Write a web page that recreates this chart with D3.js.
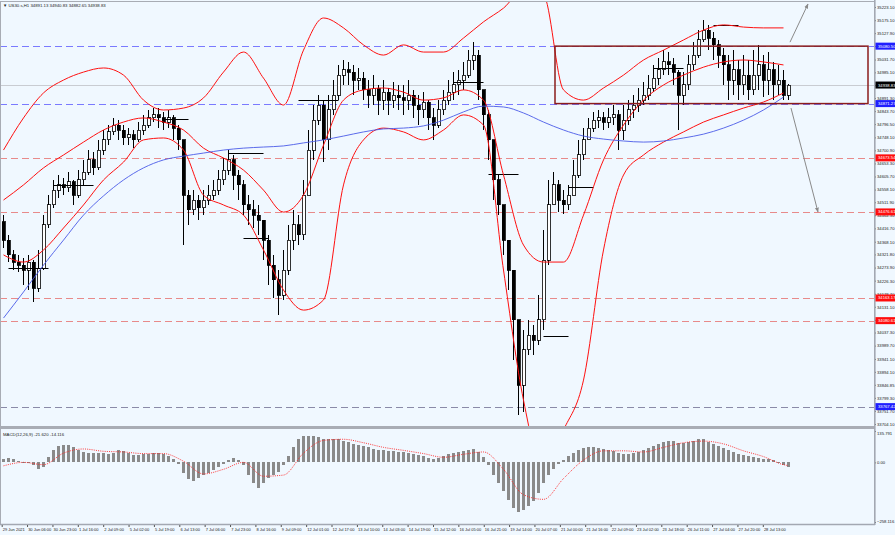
<!DOCTYPE html>
<html><head><meta charset="utf-8">
<script src="https://cdn.jsdelivr.net/npm/d3@7"></script>
<style>body{margin:0;background:#f0f8ff}svg{display:block}</style>
</head><body><svg id="c" width="895" height="535"></svg>
<script>
// ---------------- DATA ----------------
const symbolTitle = "US30.s,H1  34891.13 34940.83 34882.65 34938.83";
const macdTitle = "MACD(12,26,9) -21.620 -14.116";
const firstOpen = 34440;
const closes = [
34374,34320,34294,34283,34265,34294,34199,34272,34429,34502,
34556,34575,34564,34586,34538,34593,34622,34666,34637,34702,
34739,34768,34793,34775,34746,34757,34739,34775,34793,34819,
34830,34819,34804,34819,34782,34739,34538,34484,34520,34491,
34520,34538,34556,34593,34629,34666,34611,34575,34502,34484,
34465,34447,34374,34283,34229,34174,34265,34374,34429,34393,
34538,34702,34811,34866,34739,34848,34902,34975,34994,34986,
34957,34964,34921,34902,34928,34884,34913,34884,34902,34892,
34884,34902,34866,34848,34877,34819,34793,34848,34884,34913,
34939,34957,34975,35030,35048,34921,34830,34739,34593,34502,
34374,34265,34083,33846,33974,34028,34010,34083,34301,34502,
34575,34520,34502,34538,34611,34684,34739,34782,34811,34819,
34804,34819,34830,34775,34811,34848,34866,34884,34902,34928,
34964,34994,35023,35012,34986,34902,34939,35012,35048,35103,
35139,35110,35085,35048,35012,34957,34994,34939,34975,34921,
34975,35012,34957,34994,34939,34957,34902,34938.83];
const highs = [
34465,34393,34338,34320,34309,34320,34301,34338,34465,34538,
34593,34611,34600,34622,34593,34629,34666,34702,34695,34739,
34775,34793,34819,34811,34793,34782,34775,34804,34830,34848,
34855,34855,34841,34848,34830,34793,34739,34556,34556,34538,
34556,34575,34593,34629,34673,34702,34684,34629,34593,34538,
34520,34502,34447,34393,34320,34265,34338,34429,34484,34465,
34593,34775,34866,34902,34884,34902,34957,35012,35030,35023,
35012,35001,34986,34957,34975,34939,34957,34928,34950,34939,
34939,34957,34921,34902,34913,34884,34855,34884,34921,34957,
34986,34994,35023,35066,35096,35066,34921,34848,34739,34611,
34502,34374,34265,34083,34046,34083,34065,34174,34411,34593,
34622,34593,34556,34575,34666,34739,34782,34819,34841,34848,
34841,34855,34866,34848,34866,34884,34902,34928,34950,34975,
35012,35037,35066,35059,35037,34994,34986,35048,35096,35139,
35176,35157,35132,35103,35074,35048,35066,35030,35048,35030,
35066,35085,35048,35059,35023,35012,34994,34940.83];
const lows = [
34345,34294,34265,34258,34210,34192,34148,34185,34265,34418,
34491,34527,34538,34549,34502,34527,34575,34611,34611,34629,
34684,34720,34757,34739,34720,34720,34710,34731,34757,34782,
34804,34782,34775,34782,34739,34702,34356,34429,34465,34447,
34465,34502,34520,34538,34575,34611,34556,34520,34465,34429,
34418,34393,34301,34210,34163,34101,34156,34247,34338,34356,
34374,34538,34666,34793,34658,34702,34830,34884,34939,34939,
34902,34921,34884,34855,34866,34830,34848,34830,34855,34848,
34830,34848,34819,34793,34819,34775,34739,34782,34830,34866,
34884,34902,34921,34964,34994,34884,34775,34666,34520,34465,
34320,34192,33937,33737,33748,33955,33955,33992,34046,34283,
34502,34476,34469,34484,34556,34600,34666,34739,34768,34782,
34775,34782,34793,34702,34739,34793,34819,34841,34866,34884,
34913,34939,34975,34975,34939,34775,34866,34921,34994,35037,
35096,35066,35030,35001,34939,34884,34902,34884,34902,34884,
34902,34921,34895,34902,34884,34902,34884,34882.65];

// indicator samples (bar index of each sample)
const sampleBars = [0,4,8,12,16,20,24,28,32,36,40,44,48,52,56,60,64,68,72,76,80,84,88,92,96,100,104,108,112,116,120,124,128,132,136,140,144,148,152,156];
const bbUpper = [34702,34819,34910,34957,34986,35001,34975,34884,34848,34855,34892,34986,35059,34964,34866,35066,35183,35147,35085,35048,35085,35059,35059,35110,35169,35219,35285,35267,34921,34884,34928,34975,35030,35066,35103,35139,35158,35150,35147,35147];
const bbMiddle = [34520,34575,34637,34684,34731,34775,34804,34819,34804,34775,34709,34673,34629,34556,34476,34538,34720,34884,34921,34928,34913,34884,34892,34921,34884,34611,34356,34294,34294,34465,34666,34793,34884,34939,34975,35004,35023,35030,35023,35012];
const bbLower = [34320,34294,34338,34418,34502,34593,34658,34739,34746,34702,34538,34502,34465,34338,34192,34119,34156,34575,34739,34782,34768,34739,34775,34830,34793,34265,33791,33536,33682,33864,34338,34611,34684,34731,34768,34804,34830,34855,34877,34910];
const maLine = [34090,34185,34283,34374,34465,34535,34593,34637,34666,34680,34691,34702,34709,34713,34717,34728,34739,34753,34768,34779,34782,34790,34811,34841,34862,34859,34837,34804,34775,34753,34742,34735,34731,34735,34746,34760,34782,34811,34848,34895];

const macdHist = [
13,18,13,4,0,-4,-13,-27,-18,22,
54,72,76,76,67,54,45,40,40,40,
40,36,40,54,49,40,31,31,36,36,
40,40,36,27,13,-9,-45,-72,-81,-67,
-54,-45,-31,-22,-9,9,18,9,-13,-54,
-90,-112,-90,-67,-54,-40,-13,27,67,99,
116,116,112,108,103,103,99,99,94,90,
81,76,72,67,58,54,54,49,49,45,
45,40,36,31,27,18,13,18,27,36,
40,45,49,54,58,45,22,-13,-54,-90,
-125,-161,-197,-215,-206,-188,-166,-134,-90,-54,
-27,-9,9,27,40,54,63,67,67,63,
58,54,49,40,36,36,40,45,54,63,
72,81,90,94,94,85,85,90,94,99,
99,90,81,72,63,54,45,36,31,27,
22,18,13,13,9,0,-13,-21.62];
const signalBars = sampleBars.concat([157]);
const macdSignal = [-15,0,-10,40,58,48,45,38,38,5,-50,-30,0,-60,-55,40,95,100,85,65,52,38,22,35,45,-30,-140,-160,-70,10,50,50,45,65,85,92,80,50,25,-10,-14.116];

const priceTicks = [35223.10,35175.10,35127.90,35080.50,35031.70,34985.10,34938.50,34891.30,34843.70,34796.50,34748.10,34700.90,34653.30,34605.70,34558.10,34511.90,34464.30,34416.70,34368.10,34321.80,34273.90,34226.30,34178.70,34131.10,34083.50,34037.30,33989.70,33941.10,33894.10,33846.85,33799.30,33751.70,33704.10];
const macdTicks = [135.791, 0, -258.116];
const timeLabels = ["29 Jun 2021","30 Jun 06:00","30 Jun 23:00","1 Jul 16:00","2 Jul 09:00","5 Jul 02:00","5 Jul 19:00","6 Jul 13:00","7 Jul 06:00","7 Jul 23:00","8 Jul 16:00","9 Jul 09:00","12 Jul 01:00","12 Jul 17:00","13 Jul 10:00","14 Jul 03:00","14 Jul 19:00","15 Jul 12:00","16 Jul 05:00","16 Jul 21:00","19 Jul 14:00","20 Jul 07:00","21 Jul 00:00","21 Jul 16:00","22 Jul 09:00","23 Jul 02:00","23 Jul 18:00","26 Jul 11:00","27 Jul 04:00","27 Jul 20:00","28 Jul 13:00"];
const timeLabelBars = [-0.36,4.71,9.79,14.86,19.94,25.01,30.08,35.16,40.23,45.31,50.38,55.45,60.53,65.60,70.68,75.75,80.82,85.90,90.97,96.05,101.12,106.19,111.27,116.34,121.42,126.49,131.56,136.64,141.71,146.79,151.86];

const levelPrices = [35080.50,34871.27,34673.54,34476.61,34163.17,34080.61,33767.42];
const levelKinds  = ["blue","blue","red","red","red","red","grey"];
const lastPrice = 34938.83;
const segBars = [[1,9],[10,18],[32,37],[45,52],[48,53],[59,67],[90,96],[97,103],[108,113],[113,118],[130,136],[142,147]];
const segPrices = [34272,34575,34815,34691,34382,34884,34950,34615,34024,34567,35001,35157];
const boxBars = [110.3, 172.9];
const boxPrices = [35080.50, 34871.27];
const arrowBars = [[157.3,160.9],[157.5,162.9]];
const arrowPrices = [[35095,35234],[34855,34476]];

// ---------------- LAYOUT ----------------
const W=895,H=535, plotR=874, mainTop=2, mainBot=426, macdTop=430, macdBot=524;
const svg=d3.select('#c');
const FONT='"Liberation Sans", Arial, sans-serif';
svg.append('rect').attr('width',W).attr('height',H).attr('fill','#f0f8ff');

const x=d3.scaleLinear().domain([0,157]).range([3.5,788.5]);
const y=d3.scaleLinear().domain([33704.10,35223.10]).range([424,7]);
const ym=d3.scaleLinear().domain([-258.116,135.791]).range([522,431]);

const defs=svg.append('defs');
defs.append('clipPath').attr('id','cm').append('rect').attr('x',0).attr('y',mainTop).attr('width',plotR).attr('height',mainBot-mainTop);
defs.append('clipPath').attr('id','cd').append('rect').attr('x',0).attr('y',macdTop).attr('width',plotR).attr('height',macdBot-macdTop);
defs.append('marker').attr('id','ah').attr('viewBox','0 0 10 10').attr('refX',9).attr('refY',5)
  .attr('markerWidth',5).attr('markerHeight',5).attr('orient','auto')
  .append('path').attr('d','M0,1L10,5L0,9Z').attr('fill','#8a8a8a');

const main=svg.append('g').attr('clip-path','url(#cm)');

// dashed level lines
const lvlColor={blue:'#7a7aff',red:'#e88a8a',grey:'#8a8aa8'};
main.selectAll('.lvl').data(levelPrices).join('line')
  .attr('x1',0).attr('x2',plotR).attr('y1',d=>Math.round(y(d))+0.5).attr('y2',d=>Math.round(y(d))+0.5)
  .attr('stroke',(d,i)=>lvlColor[levelKinds[i]]).attr('stroke-width',1).attr('stroke-dasharray','7,4');
// last price line
main.append('line').attr('x1',0).attr('x2',plotR).attr('y1',Math.round(y(lastPrice))+0.5).attr('y2',Math.round(y(lastPrice))+0.5)
  .attr('stroke','#c9ccd2').attr('stroke-width',1);

// candles
const opens=[firstOpen].concat(closes.slice(0,-1));
const cg=main.append('g').attr('shape-rendering','crispEdges');
closes.forEach((c,i)=>{
  const o=opens[i], hi=Math.max(highs[i],o,c), lo=Math.min(lows[i],o,c);
  cg.append('line').attr('x1',x(i)).attr('x2',x(i)).attr('y1',y(hi)).attr('y2',y(lo)).attr('stroke','#000');
  const top=y(Math.max(o,c)), h=Math.max(1,Math.abs(y(o)-y(c)));
  cg.append('rect').attr('x',x(i)-1.5).attr('y',top).attr('width',3).attr('height',h)
    .attr('fill',c>=o?'#ffffff':'#000000').attr('stroke','#000').attr('stroke-width',0.8);
});

// black horizontal segments
main.selectAll('.seg').data(segPrices).join('line')
  .attr('x1',(d,i)=>x(segBars[i][0])).attr('x2',(d,i)=>x(segBars[i][1]))
  .attr('y1',d=>Math.round(y(d))+0.5).attr('y2',d=>Math.round(y(d))+0.5)
  .attr('stroke','#000').attr('stroke-width',1);

// bollinger + MA
const lineGen=(arr,bars,sc)=>d3.line().x((d,i)=>x(bars[i])).y(d=>sc(d)).curve(d3.curveMonotoneX)(arr);
[bbUpper,bbMiddle,bbLower].forEach(a=>{
  main.append('path').attr('d',lineGen(a,sampleBars,y)).attr('fill','none').attr('stroke','#ff1010').attr('stroke-width',1);
});
main.append('path').attr('d',lineGen(maLine,sampleBars,y)).attr('fill','none').attr('stroke','#4a5ae8').attr('stroke-width',0.9);

// box
main.append('rect').attr('x',x(boxBars[0])).attr('y',y(boxPrices[0])).attr('width',x(boxBars[1])-x(boxBars[0]))
  .attr('height',y(boxPrices[1])-y(boxPrices[0])).attr('fill','none').attr('stroke','#8b1c1c').attr('stroke-width',1.5);

// arrows
svg.selectAll('.arr').data(arrowBars).join('line')
  .attr('x1',d=>x(d[0])).attr('x2',d=>x(d[1]))
  .attr('y1',(d,i)=>y(arrowPrices[i][0])).attr('y2',(d,i)=>y(arrowPrices[i][1]))
  .attr('stroke','#8a8a8a').attr('stroke-width',1).attr('marker-end','url(#ah)');

// MACD
const md=svg.append('g').attr('clip-path','url(#cd)');
md.append('g').attr('shape-rendering','crispEdges').selectAll('rect').data(macdHist).join('rect')
  .attr('x',(d,i)=>Math.round(x(i)-1.5)).attr('width',3)
  .attr('y',d=>Math.min(ym(d),ym(0))).attr('height',d=>Math.max(0.5,Math.abs(ym(d)-ym(0))))
  .attr('fill','#8a8a8a');
md.append('path').attr('d',lineGen(macdSignal,signalBars,ym)).attr('fill','none')
  .attr('stroke','#ff2020').attr('stroke-width',0.9).attr('stroke-dasharray','1,1.2');

// frames
svg.append('line').attr('x1',0).attr('x2',plotR).attr('y1',1.5).attr('y2',1.5).attr('stroke','#a8acb4');
svg.append('line').attr('x1',0.5).attr('x2',0.5).attr('y1',1).attr('y2',macdBot).attr('stroke','#a8acb4');
svg.append('rect').attr('x',0).attr('y',426).attr('width',plotR).attr('height',3).attr('fill','#a9adb5');

// right axes
const ax=svg.append('g').attr('transform',`translate(${plotR},0)`)
  .call(d3.axisRight(y).tickValues(priceTicks).tickSize(2).tickPadding(1).tickFormat(d=>d.toFixed(2)));
const ax2=svg.append('g').attr('transform',`translate(${plotR},0)`)
  .call(d3.axisRight(ym).tickValues(macdTicks).tickSize(2).tickPadding(1).tickFormat(d=>d===0?'0.00':d3.format('.3f')(d)));
[ax,ax2].forEach(a=>{
  a.select('.domain').remove();
  a.selectAll('text').attr('font-family',FONT).attr('font-size',4.2).attr('fill','#222');
  a.selectAll('line').attr('stroke','#555');
});
ax2.selectAll('text').attr('dy',(d)=>d>100?'0.9em':(d<-200?'0em':'0.32em'));
svg.append('rect').attr('x',plotR).attr('y',0).attr('width',1.6).attr('height',macdBot+1).attr('fill','#a3a8b2');

// level tags
const tagFill={blue:'#1f1fff',red:'#ff0d0d',grey:'#1f1fff'};
const tags=levelPrices.map((p,i)=>({p,fill:tagFill[levelKinds[i]]})).concat([{p:lastPrice,fill:'#000'}]);
const tg=svg.append('g');
tags.forEach(t=>{
  const cy=y(t.p);
  tg.append('rect').attr('x',plotR+1.5).attr('y',cy-3.5).attr('width',W-plotR-1.5).attr('height',7).attr('fill',t.fill);
  tg.append('text').attr('x',plotR+4).attr('y',cy).attr('dy','0.35em').attr('font-family',FONT).attr('font-size',4.2)
    .attr('fill','#fff').text(t.p.toFixed(2));
});

// bottom axis
svg.append('line').attr('x1',0).attr('x2',plotR+1).attr('y1',macdBot+0.5).attr('y2',macdBot+0.5).attr('stroke','#a3a8b2').attr('stroke-width',1.5);
const bx=svg.append('g').attr('transform',`translate(0,${macdBot+1})`)
  .call(d3.axisBottom(x).tickValues(timeLabelBars).tickSize(2).tickPadding(1).tickFormat((d,i)=>timeLabels[i]));
bx.select('.domain').remove();
bx.selectAll('line').attr('stroke','#555');
bx.selectAll('text').attr('text-anchor','start').attr('dx','0.6').attr('y',3).attr('dy','0.8em')
  .attr('font-family',FONT).attr('font-size',4).attr('fill','#222');

// titles
svg.append('text').attr('x',3).attr('y',7).attr('font-family',FONT).attr('font-size',4.3).attr('fill','#222').text('\u25BC '+symbolTitle);
svg.append('text').attr('x',3).attr('y',436).attr('font-family',FONT).attr('font-size',4.3).attr('fill','#222').text(macdTitle);
</script></body></html>
